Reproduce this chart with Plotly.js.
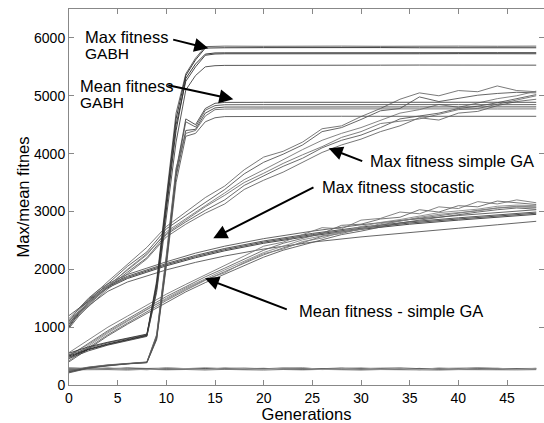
<!DOCTYPE html>
<html>
<head>
<meta charset="utf-8">
<script src="https://cdn.plot.ly/plotly-3.0.1.min.js"></script>
<style>html,body{margin:0;padding:0;background:#fff;}#chart{width:544px;height:423px;}</style>
</head>
<body>
<div id="chart"></div>
<script>
// ---------------- data ----------------
// GABH runs (generation sample points)
var gabhGen = [0, 2, 4, 6, 8, 9, 10, 11, 12, 13, 14, 15, 16, 20, 24, 28, 32, 36, 40, 44, 48];
var gabhMax1 = [520, 640, 730, 800, 870, 1800, 3300, 4700, 5380, 5650, 5850, 5855, 5858, 5855, 5860, 5858, 5855, 5860, 5858, 5856, 5858];
var gabhMax2 = [500, 620, 710, 790, 860, 1750, 3200, 4600, 5350, 5620, 5825, 5830, 5830, 5832, 5828, 5830, 5833, 5830, 5828, 5830, 5830];
var gabhMax3 = [480, 610, 700, 780, 850, 1650, 3000, 4400, 5300, 5550, 5720, 5740, 5742, 5744, 5746, 5744, 5740, 5744, 5745, 5744, 5744];
var gabhMax4 = [550, 660, 740, 810, 880, 1700, 3100, 4500, 5250, 5500, 5700, 5722, 5726, 5724, 5728, 5726, 5722, 5726, 5728, 5724, 5726];
var gabhMax5 = [460, 590, 690, 770, 840, 1600, 2900, 4200, 5100, 5350, 5500, 5520, 5525, 5529, 5530, 5528, 5529, 5531, 5529, 5528, 5529];

var gabhMean1 = [230, 300, 340, 370, 395, 850, 2200, 3700, 4600, 4500, 4780, 4870, 4885, 4887, 4885, 4888, 4887, 4886, 4887, 4888, 4887];
var gabhMean2 = [240, 305, 345, 372, 390, 820, 2150, 3650, 4550, 4460, 4750, 4830, 4845, 4847, 4849, 4846, 4847, 4848, 4847, 4846, 4847];
var gabhMean3 = [220, 295, 335, 368, 388, 800, 2100, 3600, 4400, 4420, 4700, 4790, 4805, 4808, 4806, 4809, 4808, 4807, 4808, 4809, 4808];
var gabhMean4 = [250, 310, 348, 375, 398, 870, 2250, 3750, 4350, 4400, 4650, 4760, 4770, 4773, 4775, 4772, 4773, 4774, 4773, 4772, 4773];
var gabhMean5 = [210, 290, 330, 365, 385, 780, 2050, 3500, 4300, 4350, 4550, 4620, 4640, 4645, 4643, 4646, 4645, 4644, 4645, 4646, 4645];

// simple GA runs
var sgaGen = [0, 2, 4, 6, 8, 10, 12, 14, 16, 18, 20, 22, 24, 26, 28, 30, 32, 34, 36, 38, 40, 42, 44, 46, 48];
var sgaMax1 = [1150, 1480, 1790, 2080, 2380, 2740, 2990, 3240, 3440, 3720, 3940, 4040, 4200, 4430, 4480, 4640, 4780, 4940, 5050, 5000, 5090, 5070, 5170, 5090, 5070];
var sgaMax2 = [1200, 1450, 1750, 2050, 2300, 2700, 2930, 3150, 3380, 3650, 3850, 3990, 4150, 4380, 4450, 4590, 4740, 4780, 4980, 4900, 4950, 5010, 5040, 5060, 5050];
var sgaMax3 = [1100, 1420, 1720, 1980, 2250, 2650, 2880, 3100, 3320, 3550, 3720, 3900, 4070, 4230, 4350, 4450, 4580, 4700, 4760, 4850, 4800, 4880, 4950, 5000, 5080];
var sgaMax4 = [1080, 1380, 1690, 1950, 2200, 2600, 2820, 3020, 3200, 3450, 3620, 3780, 3920, 4100, 4230, 4320, 4450, 4600, 4650, 4700, 4780, 4820, 4880, 4950, 5020];
var sgaMax5 = [1050, 1360, 1660, 1920, 2180, 2560, 2780, 2970, 3130, 3380, 3540, 3680, 3850, 4020, 4150, 4250, 4380, 4480, 4620, 4580, 4700, 4730, 4830, 4900, 4940];
var sgaMax6 = [1120, 1400, 1700, 2000, 2270, 2620, 2850, 3080, 3280, 3500, 3660, 3830, 3980, 4120, 4280, 4380, 4520, 4560, 4600, 4680, 4760, 4780, 4850, 4930, 5000];

var sgaMean1 = [560, 780, 1000, 1190, 1380, 1570, 1740, 1900, 2060, 2230, 2400, 2470, 2600, 2720, 2700, 2850, 2880, 2990, 2960, 3080, 3050, 3170, 3130, 3200, 3150];
var sgaMean2 = [500, 720, 940, 1140, 1330, 1530, 1700, 1870, 2020, 2180, 2330, 2450, 2530, 2620, 2760, 2780, 2870, 2900, 3030, 2990, 3100, 3080, 3180, 3150, 3120];
var sgaMean3 = [450, 680, 900, 1100, 1300, 1500, 1680, 1840, 1990, 2140, 2290, 2400, 2510, 2580, 2650, 2740, 2810, 2860, 2920, 2980, 3010, 3040, 3090, 3110, 3100];
var sgaMean4 = [420, 650, 870, 1070, 1270, 1460, 1640, 1810, 1960, 2100, 2250, 2370, 2460, 2570, 2620, 2700, 2760, 2840, 2880, 2930, 2970, 3020, 3060, 3080, 3070];
var sgaMean5 = [400, 630, 850, 1050, 1240, 1430, 1610, 1770, 1920, 2070, 2210, 2330, 2420, 2520, 2600, 2660, 2730, 2800, 2850, 2900, 2950, 2990, 3030, 3060, 3040];
var sgaMean6 = [520, 700, 920, 1120, 1310, 1480, 1660, 1820, 1940, 2120, 2270, 2350, 2480, 2540, 2640, 2690, 2790, 2830, 2900, 2950, 2980, 3010, 3060, 3090, 3080];

// stochastic search runs
var stoGen = [0, 1, 2, 3, 4, 6, 8, 10, 13, 16, 20, 25, 30, 35, 40, 44, 48];
var stoMax1 = [1000, 1230, 1420, 1560, 1680, 1840, 1950, 2060, 2200, 2320, 2450, 2580, 2690, 2780, 2850, 2900, 2950];
var stoMax2 = [1050, 1280, 1470, 1610, 1720, 1880, 1990, 2100, 2240, 2360, 2490, 2620, 2730, 2820, 2890, 2940, 2990];
var stoMax3 = [1100, 1320, 1500, 1640, 1750, 1910, 2020, 2130, 2280, 2400, 2530, 2660, 2770, 2860, 2930, 2980, 3030];
var stoMax4 = [1020, 1250, 1440, 1580, 1700, 1860, 1970, 2080, 2220, 2340, 2470, 2600, 2710, 2800, 2870, 2920, 2970];
var stoMax5 = [980, 1190, 1370, 1500, 1620, 1780, 1890, 1990, 2120, 2230, 2350, 2470, 2560, 2640, 2710, 2770, 2830];

var stoMean1 = [280, 285, 275, 290, 278, 282, 270, 285, 276, 280, 288, 274, 279, 283, 272, 286, 277, 281, 275, 284, 279, 273, 286, 280, 276];
var stoMean2 = [270, 278, 290, 272, 284, 268, 281, 274, 290, 271, 279, 285, 268, 276, 288, 270, 283, 274, 287, 270, 282, 288, 271, 278, 283];
var stoMean3 = [295, 288, 280, 296, 286, 292, 283, 296, 284, 293, 281, 295, 290, 282, 294, 286, 291, 296, 283, 291, 286, 295, 282, 291, 287];
var stoMean4 = [262, 270, 266, 258, 272, 262, 268, 259, 270, 263, 258, 268, 261, 270, 264, 258, 267, 262, 269, 258, 266, 262, 270, 261, 265];
var stoMean5 = [300, 276, 296, 282, 262, 300, 288, 266, 298, 286, 270, 292, 302, 266, 282, 298, 272, 290, 264, 296, 274, 300, 292, 268, 290];

var xTicks = [0, 5, 10, 15, 20, 25, 30, 35, 40, 45];
var yTicks = [0, 1000, 2000, 3000, 4000, 5000, 6000];

// ---------------- traces ----------------
var traces = [];
function addGroup(x, ys, colors) {
  ys.forEach(function (y, i) {
    traces.push({
      type: 'scatter', mode: 'lines', x: x, y: y,
      line: {color: colors[i % colors.length], width: 0.9},
      hoverinfo: 'skip', showlegend: false
    });
  });
}
addGroup(stoGen, [stoMax1, stoMax2, stoMax3, stoMax4, stoMax5], ['#333', '#444', '#555', '#3a3a3a', '#555']);
addGroup(sgaGen, [sgaMean1, sgaMean2, sgaMean3, sgaMean4, sgaMean5, sgaMean6], ['#777', '#666', '#888', '#6a6a6a', '#5a5a5a', '#808080']);
addGroup(sgaGen, [sgaMax1, sgaMax2, sgaMax3, sgaMax4, sgaMax5, sgaMax6], ['#6a6a6a', '#555', '#777', '#5a5a5a', '#666', '#707070']);
addGroup(sgaGen, [stoMean1, stoMean2, stoMean3, stoMean4, stoMean5], ['#444', '#555', '#666', '#777', '#999']);
addGroup(gabhGen, [gabhMean1, gabhMean2, gabhMean3, gabhMean4, gabhMean5], ['#444', '#555', '#444', '#666', '#555']);
addGroup(gabhGen, [gabhMax1, gabhMax2, gabhMax3, gabhMax4, gabhMax5], ['#555', '#222', '#222', '#333', '#444']);

// ---------------- annotations ----------------
var FONT = 'Liberation Sans, Arial, Helvetica, sans-serif';
function label(text, x, y, size) {
  return {text: text, x: x, y: y, xref: 'x', yref: 'y', xanchor: 'left', yanchor: 'middle',
    showarrow: false, font: {family: FONT, size: size, color: '#000'}, borderpad: 0};
}
function arrow(tx, ty, hx, hy) {
  return {text: '', x: hx, y: hy, ax: tx, ay: ty, xref: 'x', yref: 'y', axref: 'x', ayref: 'y',
    showarrow: true, arrowhead: 2, arrowsize: 1.4, arrowwidth: 2, arrowcolor: '#000', standoff: 0, startstandoff: 0};
}
var annotations = [
  label('Max fitness', 1.55, 6017, 16.5),
  label('GABH', 1.55, 5723, 15.5),
  label('Mean fitness', 1.05, 5170, 16.5),
  label('GABH', 1.05, 4876, 15.5),
  label('Max fitness simple GA', 30.85, 3873, 16.5),
  label('Max fitness stocastic', 25.9, 3423, 16.5),
  label('Mean fitness - simple GA', 23.55, 1279, 16.5),
  arrow(10.55, 5977, 14.31, 5821),
  arrow(10.04, 5187, 16.88, 4940),
  arrow(30.28, 3861, 26.68, 4093),
  arrow(25.27, 3429, 14.82, 2537),
  arrow(22.53, 1297, 13.97, 1845)
];

var axisCommon = {
  ticks: 'inside', ticklen: 5, tickwidth: 1, tickcolor: '#888',
  showline: true, linecolor: '#888', linewidth: 1, mirror: 'ticks',
  showgrid: false, zeroline: false,
  tickfont: {family: FONT, size: 14, color: '#000'}
};

var layout = {
  width: 544, height: 423,
  margin: {l: 69, r: 0, t: 9, b: 38, pad: 0},
  paper_bgcolor: '#fff', plot_bgcolor: '#fff',
  showlegend: false,
  font: {family: FONT, color: '#000'},
  xaxis: Object.assign({}, axisCommon, {
    range: [0, 48.8], tickmode: 'array', tickvals: xTicks, ticktext: xTicks.map(String),
    title: {text: 'Generations', font: {family: FONT, size: 16.5, color: '#000'}, standoff: 0}
  }),
  yaxis: Object.assign({}, axisCommon, {
    range: [0, 6500], tickmode: 'array', tickvals: yTicks, ticktext: yTicks.map(String),
    title: {text: 'Max/mean fitnes', font: {family: FONT, size: 16.5, color: '#000'}, standoff: 0}
  }),
  annotations: annotations
};

Plotly.newPlot('chart', traces, layout, {staticPlot: true, displayModeBar: false});
</script>
</body>
</html>
